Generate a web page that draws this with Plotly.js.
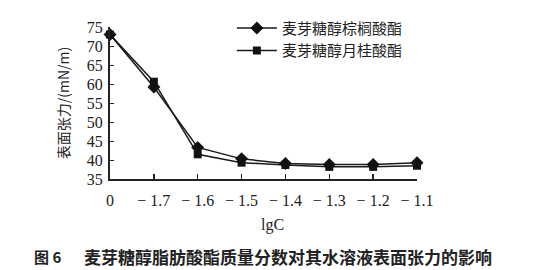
<!DOCTYPE html>
<html><head><meta charset="utf-8">
<script src="https://cdn.plot.ly/plotly-3.0.1.min.js"></script>
<style>html,body{margin:0;padding:0;background:#fff}#chart{width:534px;height:270px}</style>
</head><body><div id="chart"></div>
<script>
const categories = ['0', '\u2212 1.7', '\u2212 1.6', '\u2212 1.5', '\u2212 1.4', '\u2212 1.3', '\u2212 1.2', '\u2212 1.1'];
const palmitate = [73.0, 59.2, 43.3, 40.3, 39.1, 38.8, 38.8, 39.3];
const laurate   = [73.0, 60.6, 41.5, 39.3, 38.7, 38.2, 38.2, 38.5];
const seriesNames = ['麦芽糖醇棕榈酸酯', '麦芽糖醇月桂酸酯'];
const yTicks = [35, 40, 45, 50, 55, 60, 65, 70, 75];

const serif = 'Liberation Serif, Times New Roman, serif';
const cjk = 'Noto Sans CJK SC, sans-serif';

const traces = [
  {x: categories, y: palmitate, name: seriesNames[0], mode: 'lines+markers', cliponaxis: false,
   line: {color: '#1a1a1a', width: 1.5}, marker: {symbol: 'diamond', size: 10, color: '#111'}},
  {x: categories, y: laurate, name: seriesNames[1], mode: 'lines+markers', cliponaxis: false,
   line: {color: '#1a1a1a', width: 1.5}, marker: {symbol: 'square', size: 8, color: '#111'}}
];

const layout = {
  width: 534, height: 270,
  margin: {l: 110, r: 117, t: 18, b: 91},
  paper_bgcolor: '#fff', plot_bgcolor: '#fff',
  showlegend: true,
  legend: {x: 0.397, y: 1.1, xanchor: 'left', yanchor: 'top', bgcolor: 'rgba(0,0,0,0)',
           font: {family: cjk, size: 15, color: '#222'}, itemwidth: 40, tracegroupgap: 0},
  xaxis: {type: 'category', range: [0, 7], showgrid: false, zeroline: false,
          showline: true, linecolor: '#222', linewidth: 2,
          ticks: 'inside', ticklen: 5, tickcolor: '#222', tickwidth: 1.5,
          ticklabelstandoff: 6,
          tickfont: {family: serif, size: 16, color: '#222'}},
  yaxis: {range: [35, 75], tickvals: yTicks, showgrid: false, zeroline: false,
          showline: true, linecolor: '#222', linewidth: 2,
          ticks: 'inside', ticklen: 4, tickcolor: '#222',
          ticklabelstandoff: 2,
          tickfont: {family: serif, size: 16, color: '#222'},
          title: {text: '表面张力/(mN/m)', font: {family: cjk, size: 14, color: '#222'}, standoff: 14}},
  annotations: [
    {text: 'lgC', xref: 'paper', yref: 'paper', x: 0.528, y: -0.30, xanchor: 'center', yanchor: 'middle',
     showarrow: false, font: {family: serif, size: 16, color: '#222'}},
    {text: '<b>图 6</b>', xref: 'paper', yref: 'paper', x: (32 - 110) / 307, y: -0.51, xanchor: 'left', yanchor: 'middle',
     showarrow: false, font: {family: cjk, size: 15, color: '#222'}},
    {text: '<b>麦芽糖醇脂肪酸酯质量分数对其水溶液表面张力的影响</b>', xref: 'paper', yref: 'paper',
     x: (82 - 110) / 307, y: -0.51, xanchor: 'left', yanchor: 'middle',
     showarrow: false, font: {family: cjk, size: 17, color: '#222'}}
  ]
};

Plotly.newPlot('chart', traces, layout, {displayModeBar: false, staticPlot: true});
</script></body></html>
